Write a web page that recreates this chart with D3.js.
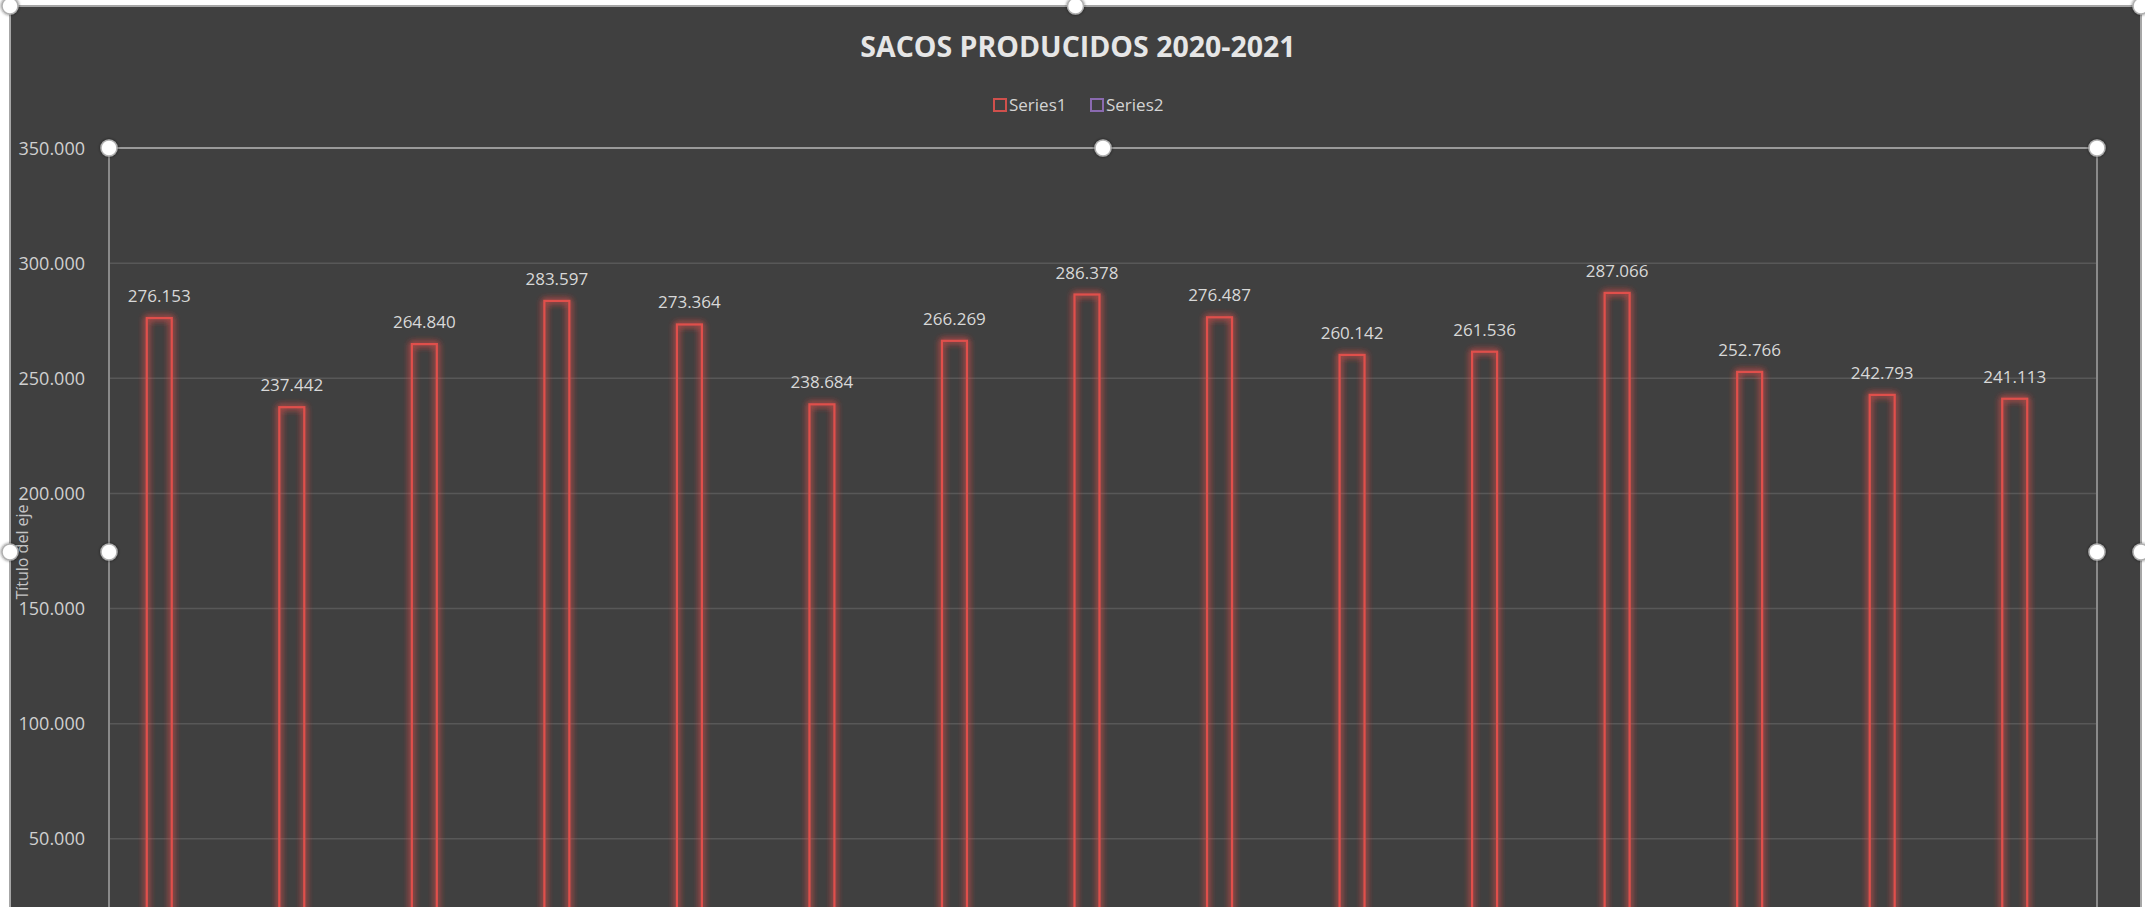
<!DOCTYPE html>
<html><head><meta charset="utf-8">
<script src="https://cdn.jsdelivr.net/npm/d3@7/dist/d3.min.js"></script>
<style>
html,body{margin:0;padding:0;background:#ffffff;overflow:hidden;}
svg{display:block;}
text{font-family:"Open Sans","Noto Sans",sans-serif;}
</style></head>
<body>
<svg id="chart" width="2145" height="907"></svg>
<script>
const categories = ["1","2","3","4","5","6","7","8","9","10","11","12","13","14","15"];
const series1 = [276153,237442,264840,283597,273364,238684,266269,286378,276487,260142,261536,287066,252766,242793,241113];
const series2 = [null,null,null,null,null,null,null,null,null,null,null,null,null,null,null];
const seriesNames = ["Series1","Series2"];
const yTicks = [50000,100000,150000,200000,250000,300000,350000];
const title = "SACOS PRODUCIDOS 2020-2021";
const axisTitle = "Título del eje";

const W = 2145, H = 907;
const frame = {x0:10, y0:6, x1:2141};
const plot = {left:109, right:2097, top:148, bottom:954};
const svg = d3.select("#chart");

const defs = svg.append("defs");
const glow = defs.append("filter").attr("id","glow").attr("x","-50%").attr("y","-10%").attr("width","200%").attr("height","120%");
glow.append("feGaussianBlur").attr("in","SourceGraphic").attr("stdDeviation",3.5).attr("result","b");
const fm = glow.append("feMerge");
fm.append("feMergeNode").attr("in","b");
fm.append("feMergeNode").attr("in","b");
fm.append("feMergeNode").attr("in","SourceGraphic");
const sh = defs.append("filter").attr("id","hs").attr("x","-50%").attr("y","-50%").attr("width","200%").attr("height","200%");
sh.append("feDropShadow").attr("dx",0).attr("dy",0).attr("stdDeviation",1.5).attr("flood-color","#000").attr("flood-opacity",0.6);

// chart area background
svg.append("rect").attr("x",frame.x0).attr("y",frame.y0).attr("width",frame.x1-frame.x0).attr("height",H)
  .attr("fill","#404040").attr("stroke","#a6a6a6").attr("stroke-width",2);

const y = d3.scaleLinear().domain([0,350000]).range([plot.bottom, plot.top]);
const x0 = d3.scaleBand().domain(categories).range([plot.left, plot.right]).paddingInner(0).paddingOuter(0);
const x1 = d3.scaleBand().domain(seriesNames).range([0, x0.bandwidth()]).paddingInner(0.22).paddingOuter(1.18);

// gridlines
svg.append("g").selectAll("line").data(yTicks.filter(t=>t<350000)).join("line")
  .attr("x1",plot.left).attr("x2",plot.right).attr("y1",d=>y(d)).attr("y2",d=>y(d))
  .attr("stroke","#585858").attr("stroke-width",1.5);

// y axis labels via d3 axis
const yAxis = d3.axisLeft(y).tickValues(yTicks).tickSize(0).tickPadding(24)
  .tickFormat(d => d3.format(",")(d).replace(/,/g,"."));
const gy = svg.append("g").attr("transform",`translate(${plot.left},0)`).call(yAxis);
gy.select(".domain").remove();
gy.selectAll("text").attr("fill","#d0d0d0").attr("font-size",18).attr("dy","0.34em");

// plot area selection border
svg.append("line").attr("x1",plot.left).attr("x2",plot.right).attr("y1",plot.top).attr("y2",plot.top).attr("stroke","#9a9a9a").attr("stroke-width",2);
svg.append("line").attr("x1",plot.left).attr("x2",plot.left).attr("y1",plot.top).attr("y2",H).attr("stroke","#8a8a8a").attr("stroke-width",2);
svg.append("line").attr("x1",plot.right).attr("x2",plot.right).attr("y1",plot.top).attr("y2",H).attr("stroke","#8a8a8a").attr("stroke-width",2);

// bars
const bw = x1.bandwidth();
const data = categories.map((c,i)=>({c, v:series1[i]}));
svg.append("g").selectAll("rect").data(data).join("rect")
  .attr("x", d => x0(d.c) + x1("Series1"))
  .attr("y", d => y(d.v))
  .attr("width", bw)
  .attr("height", d => y(0) - y(d.v))
  .attr("fill","none").attr("stroke","#e0504c").attr("stroke-width",2.2)
  .attr("filter","url(#glow)");

// data labels
svg.append("g").selectAll("text").data(data).join("text")
  .attr("x", d => x0(d.c) + x1("Series1") + bw/2)
  .attr("y", d => y(d.v) - 16)
  .attr("text-anchor","middle").attr("fill","#d8d8d8").attr("font-size",17)
  .text(d => d3.format(",")(d.v).replace(/,/g,"."));

// title
svg.append("text").attr("x",1078).attr("y",57).attr("text-anchor","middle")
  .attr("fill","#e6e6e6").attr("font-size",28.5).attr("font-weight","bold").text(title);

// legend
const legColors = ["#d0504c","#8a6ab0"];
const leg = svg.append("g");
const legX = [993, 1090];
seriesNames.forEach((s,i)=>{
  leg.append("rect").attr("x",legX[i]+1).attr("y",99).attr("width",12).attr("height",12)
    .attr("fill","none").attr("stroke",legColors[i]).attr("stroke-width",2);
  leg.append("text").attr("x",legX[i]+16).attr("y",111).attr("fill","#d4d4d4").attr("font-size",17).text(s);
});

// axis title
svg.append("text").attr("transform",`translate(28,552) rotate(-90)`).attr("text-anchor","middle")
  .attr("fill","#c4c4c4").attr("font-size",16).text(axisTitle);

// selection handles
const handles = [
  [frame.x0, frame.y0],[ (frame.x0+frame.x1)/2, frame.y0],[frame.x1, frame.y0],
  [frame.x0, 552],[frame.x1, 552],
  [plot.left, plot.top],[(plot.left+plot.right)/2, plot.top],[plot.right, plot.top],
  [plot.left, 552],[plot.right, 552]
];
svg.append("g").selectAll("circle").data(handles).join("circle")
  .attr("cx",d=>d[0]).attr("cy",d=>d[1]).attr("r",8)
  .attr("fill","#ffffff").attr("stroke","#b0b0b0").attr("stroke-width",1.5).attr("filter","url(#hs)");
</script>
</body></html>
